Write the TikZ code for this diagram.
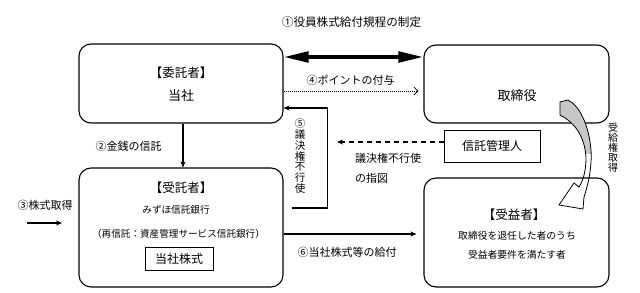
\documentclass[tikz,border=0pt]{standalone}
\usepackage{fontspec}
\setmainfont{Noto Sans CJK JP}
\usetikzlibrary{arrows.meta}
\begin{document}
\begin{tikzpicture}[x=1pt,y=-1pt,
  box/.style={draw,line width=1.1pt,rounded corners=12pt,inner sep=0pt},
  plainbox/.style={draw,line width=1pt,inner sep=0pt},
  lbl/.style={inner sep=0pt,font=\fontsize{11}{13}\selectfont},
  big/.style={inner sep=0pt,font=\fontsize{12.5}{14}\selectfont},
  small/.style={inner sep=0pt,font=\fontsize{9.6}{12}\selectfont},
  conn/.style={line width=1.1pt},
  tipend/.style={-{Stealth[length=6pt,width=5pt]}}
]
\useasboundingbox (0,0) rectangle (640,292);
\fill[white] (0,0) rectangle (640,292);

% boxes
\node[box,minimum width=204pt,minimum height=79pt] (itaku) at (181,83.5) {};
\node[box,minimum width=185pt,minimum height=78pt] (tori) at (516.5,84) {};
\node[box,minimum width=204pt,minimum height=119pt] (jutaku) at (181,227.5) {};
\node[box,minimum width=185pt,minimum height=109pt] (jueki) at (516.5,232.5) {};
\node[plainbox,minimum width=96pt,minimum height=32pt] (kanri) at (492,146) {};
\node[plainbox,minimum width=68pt,minimum height=23pt] (kabu) at (179,258.5) {};

% box texts
\node[big] (t1) at (181,73) {【委託者】};
\node[inner sep=0pt,font=\fontsize{13}{15}\selectfont] (t2) at (181,96) {当社};
\node[inner sep=0pt,font=\fontsize{13}{15}\selectfont] (t3) at (517,96) {取締役};
\node[inner sep=0pt,font=\fontsize{12}{14}\selectfont] (t4) at (492,146) {信託管理人};
\node[big] (t5) at (181,188) {【受託者】};
\node[small] (t6) at (176,210) {みずほ信託銀行};
\node[small] (t7) at (178.5,234) {（再信託：資産管理サービス信託銀行）};
\node[inner sep=0pt,font=\fontsize{12}{14}\selectfont] (t8) at (179,258.5) {当社株式};
\node[big] (t9) at (514,215) {【受益者】};
\node[inner sep=0pt,font=\fontsize{9.8}{12}\selectfont] (t10) at (517,236) {取締役を退任した者のうち};
\node[inner sep=0pt,font=\fontsize{9.8}{12}\selectfont] (t11) at (517,255) {受益者要件を満たす者};

% (1) thick double arrow
\draw[line width=3.8pt,{Triangle[length=25pt,width=10.5pt]}-{Triangle[length=25pt,width=10.5pt]}]
  ([yshift=26.5pt]itaku.east) -- ([yshift=27pt]tori.west);
\node[inner sep=0pt,font=\fontsize{11.6}{13}\selectfont] (l1) at (351.5,22) {①役員株式給付規程の制定};

% (4) dotted arrow
\draw[line width=0.8pt,dash pattern=on 1pt off 1pt,-{Straight Barb[length=4pt,width=8pt]},shorten >=5pt]
  ([yshift=-7.5pt]itaku.east) -- ([yshift=-7pt]tori.west);
\node[lbl] (l4) at (350.5,80) {④ポイントの付与};

% (5) voting right non-exercise
\draw[conn,tipend] ([xshift=8pt,yshift=19.5pt]jutaku.east) -- ++(36,0) |- ([yshift=-24.5pt]itaku.east);
\node[inner sep=0pt,align=center,font=\fontsize{10.5}{10.8}\selectfont] (l5) at (300,156)
  {⑤\\議\\決\\権\\不\\行\\使};

% dashed instruction arrow
\coordinate (dend) at (337,142);
\draw[conn,dash pattern=on 5pt off 4pt,tipend] ([yshift=4pt]kanri.west) -- (dend);
\node[lbl,anchor=west] (l5a) at (355,158) {議決権不行使};
\node[lbl,anchor=west] (l5b) at (355,178) {の指図};

% (2) money trust
\draw[conn,tipend] ([xshift=2pt]itaku.south) -- ([xshift=2pt]jutaku.north);
\node[lbl] (l2) at (128.5,146) {②金銭の信託};

% (3) share acquisition
\coordinate (s3a) at (27,223);
\coordinate (s3b) at (62,223);
\draw[conn,tipend] (s3a) -- (s3b);
\node[lbl] (l3) at (45,205) {③株式取得};

% (6) delivery
\draw[conn,tipend,shorten >=7pt] ([yshift=-6.5pt]jutaku.east) -- ([yshift=-1.5pt]jueki.west);
\node[lbl] (l6) at (347,252) {⑥当社株式等の給付};

% curved arrow
\def\curvedarrow{(560,102) -- (560,115) .. controls (574,122) and (585,136) .. (586,158)
  .. controls (586,171) and (583,181) .. (579,187)
  -- (574,183) -- (559,205) -- (583,209) -- (584,197)
  .. controls (589,182) and (592,166) .. (591,150)
  .. controls (589,126) and (580,106) .. (568,100) -- cycle}
\begin{scope}
  \clip (540,90) rectangle (600,153);
  \fill[black!22] \curvedarrow;
\end{scope}
\draw[line width=0.8pt,line join=miter] \curvedarrow;
\node[inner sep=0pt,align=center,font=\fontsize{10}{10}\selectfont] (l7) at (613,147.5)
  {受\\給\\権\\取\\得};
\end{tikzpicture}
\end{document}
